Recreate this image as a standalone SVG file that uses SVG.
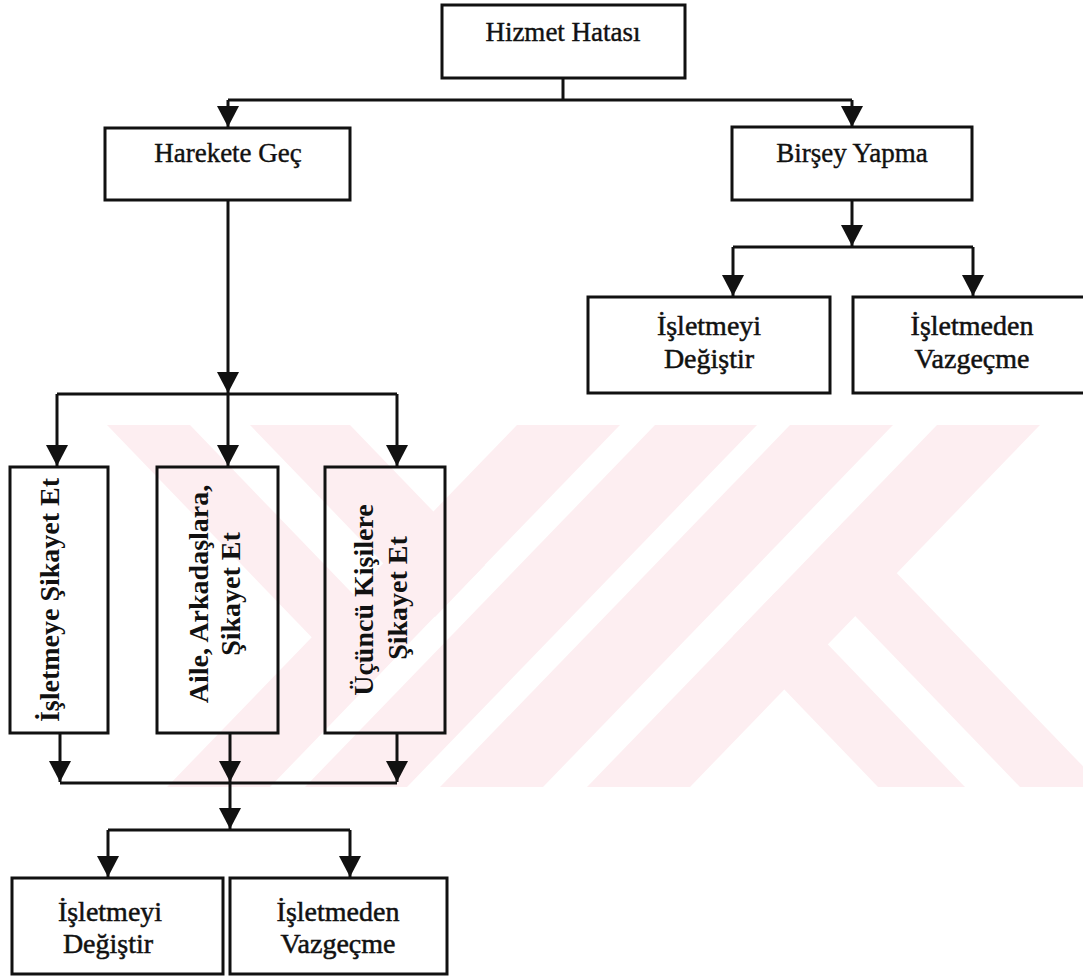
<svg xmlns="http://www.w3.org/2000/svg" width="1083" height="977" viewBox="0 0 1083 977">
  <defs>
    <marker id="arrow" viewBox="0 0 22 22" markerWidth="22" markerHeight="22" refX="21" refY="11" orient="auto" markerUnits="userSpaceOnUse">
      <path d="M0,0 L21,11 L0,22 Z" fill="#111"/>
    </marker>
  </defs>
  <style>
    .box { fill: none; stroke: #111; stroke-width: 3; }
    .wire { fill: none; stroke: #111; stroke-width: 3; }
    .label { font-family: "Liberation Serif", "Times New Roman", serif; fill: #111; text-anchor: middle; }
    .h27 { font-size: 27px; stroke: #111; stroke-width: 0.4; }
    .h28 { font-size: 28px; stroke: #111; stroke-width: 0.5; }
    .v28 { font-size: 28px; font-weight: bold; }
    .mark { fill: #fdeef1; }
  </style>

  <rect width="1083" height="977" fill="#ffffff"/>

  <!-- background emblem made of diagonal bands -->
  <g id="emblem" class="mark">
    <polygon points="107,425 190,425 405,648 363.5,691"/>
    <polygon points="250,425 350,425 485,565 435,617"/>
    <polygon points="517,425 620,425 270,787 167,787"/>
    <polygon points="655,425 757,425 407,787 305,787"/>
    <polygon points="790,425 893,425 543,787 440,787"/>
    <polygon points="937,425 1040,425 690,787 587,787"/>
    <polygon points="733,636 776.5,591 965,787 878,787"/>
    <polygon points="804,563 845.5,520 1103,787 1020,787"/>
  </g>

  <!-- connectors -->
  <g id="connectors">
    <path class="wire" d="M563,78 V100"/>
    <path class="wire" d="M228,100 H852"/>
    <path class="wire" d="M228,100 V127" marker-end="url(#arrow)"/>
    <path class="wire" d="M852,100 V127" marker-end="url(#arrow)"/>

    <path class="wire" d="M852,200 V246" marker-end="url(#arrow)"/>
    <path class="wire" d="M733,247 H973"/>
    <path class="wire" d="M733,247 V296" marker-end="url(#arrow)"/>
    <path class="wire" d="M973,247 V296" marker-end="url(#arrow)"/>

    <path class="wire" d="M228,200 V393" marker-end="url(#arrow)"/>
    <path class="wire" d="M57,394 H397"/>
    <path class="wire" d="M57,394 V466" marker-end="url(#arrow)"/>
    <path class="wire" d="M228,394 V466" marker-end="url(#arrow)"/>
    <path class="wire" d="M397,394 V466" marker-end="url(#arrow)"/>

    <path class="wire" d="M60,733 V782" marker-end="url(#arrow)"/>
    <path class="wire" d="M230,733 V782" marker-end="url(#arrow)"/>
    <path class="wire" d="M397,733 V782" marker-end="url(#arrow)"/>
    <path class="wire" d="M60,783 H397"/>

    <path class="wire" d="M230,783 V829" marker-end="url(#arrow)"/>
    <path class="wire" d="M108,830 H350"/>
    <path class="wire" d="M108,830 V877" marker-end="url(#arrow)"/>
    <path class="wire" d="M350,830 V877" marker-end="url(#arrow)"/>
  </g>

  <!-- nodes -->
  <g id="hizmet-hatasi">
    <rect class="box" x="442" y="5" width="243" height="73"/>
    <text class="label h27" x="563" y="41">Hizmet Hatası</text>
  </g>

  <g id="harekete-gec">
    <rect class="box" x="105" y="128" width="245" height="72"/>
    <text class="label h27" x="228" y="162">Harekete Geç</text>
  </g>

  <g id="birsey-yapma">
    <rect class="box" x="732" y="127" width="240" height="73"/>
    <text class="label h27" x="852" y="162">Birşey Yapma</text>
  </g>

  <g id="sag-isletmeyi-degistir">
    <rect class="box" x="588" y="297" width="242" height="96"/>
    <text class="label h28" x="709" y="335">İşletmeyi</text>
    <text class="label h28" x="709" y="368">Değiştir</text>
  </g>

  <g id="sag-isletmeden-vazgecme">
    <rect class="box" x="853" y="297" width="240" height="96"/>
    <text class="label h28" x="972" y="335">İşletmeden</text>
    <text class="label h28" x="972" y="368">Vazgeçme</text>
  </g>

  <g id="isletmeye-sikayet">
    <rect class="box" x="10" y="467" width="98" height="266"/>
    <text class="label v28" x="59" y="600" transform="rotate(-90 59 600)">İşletmeye Şikayet Et</text>
  </g>

  <g id="aile-arkadaslara">
    <rect class="box" x="157" y="467" width="121" height="266"/>
    <text class="label v28" transform="translate(208 594) rotate(-90)">Aile, Arkadaşlara,</text>
    <text class="label v28" transform="translate(240 594) rotate(-90)">Şikayet Et</text>
  </g>

  <g id="ucuncu-kisilere">
    <rect class="box" x="325" y="467" width="120" height="266"/>
    <text class="label v28" transform="translate(373 600) rotate(-90)">Üçüncü Kişilere</text>
    <text class="label v28" transform="translate(407 598) rotate(-90)">Şikayet Et</text>
  </g>

  <g id="alt-isletmeyi-degistir">
    <rect class="box" x="12" y="878" width="211" height="96"/>
    <text class="label h28" x="110" y="921">İşletmeyi</text>
    <text class="label h28" x="108" y="953">Değiştir</text>
  </g>

  <g id="alt-isletmeden-vazgecme">
    <rect class="box" x="230" y="878" width="217" height="96"/>
    <text class="label h28" x="338" y="921">İşletmeden</text>
    <text class="label h28" x="338" y="953">Vazgeçme</text>
  </g>
</svg>
